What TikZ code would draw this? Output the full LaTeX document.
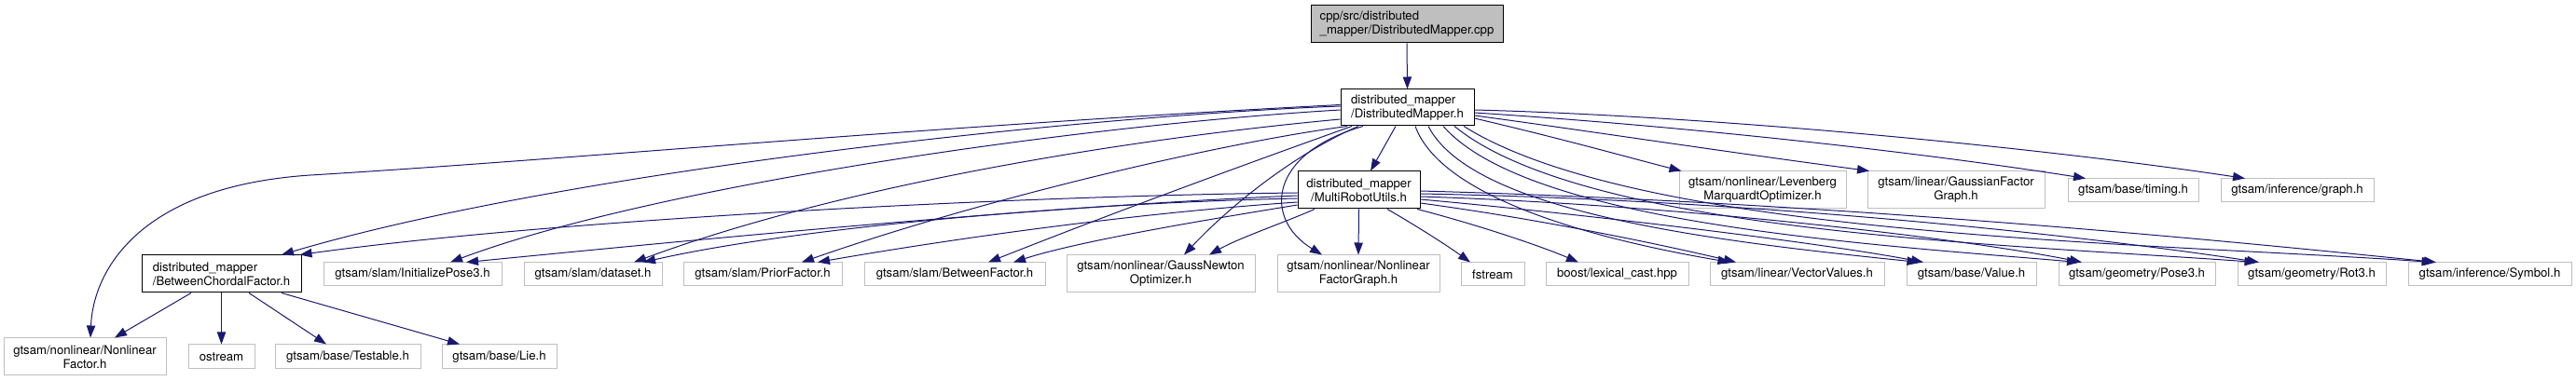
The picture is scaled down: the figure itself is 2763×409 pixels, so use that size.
\documentclass[tikz,border=0pt]{standalone}
\usepackage{fontspec}
\setmainfont{TeX Gyre Heros}
\usetikzlibrary{arrows.meta,calc}
\definecolor{edgecol}{HTML}{191970}
\definecolor{grey75}{HTML}{BFBFBF}
\tikzset{
  box/.style={draw=grey75, line width=0.75pt, inner sep=0pt, align=center,
    font=\fontsize{9.86pt}{11.25pt}\selectfont},
  mainbox/.style={box, draw=black},
  lbox/.style={mainbox, align=left},
  edge/.style={draw=edgecol, line width=0.75pt, -{Triangle[length=9.75pt,width=7pt]}},
}
\newcommand\bx[6][]{\node[#2,#1, minimum width=#4*0.75pt, minimum height=#5*0.75pt] (#3) at (#6)}
\begin{document}
\begin{tikzpicture}[x=0.75pt,y=-0.75pt]
\useasboundingbox (0,0) rectangle (2763,409);
% nodes
\bx[fill=grey75]{lbox}{cpp}{206}{40}{1509,26} {cpp/src/distributed\\\_mapper/DistributedMapper.cpp};
\bx{lbox}{DM}{143}{39}{1509.5,115.5} {distributed\_mapper\\/DistributedMapper.h};
\bx{mainbox}{MRU}{131}{40}{1457.5,204} {distributed\_mapper\\/MultiRobotUtils.h};
\bx{box}{Lev}{179}{40}{1890.5,204} {gtsam/nonlinear/Levenberg\\MarquardtOptimizer.h};
\bx{box}{GFG}{190}{40}{2098,204} {gtsam/linear/GaussianFactor\\Graph.h};
\bx{box}{timing}{140}{25}{2288,204.5} {gtsam/base/timing.h};
\bx{box}{graph}{164}{25}{2464,204.5} {gtsam/inference/graph.h};
\bx{lbox}{BCF}{171}{40}{237.5,294} {distributed\_mapper\\/BetweenChordalFactor.h};
\bx{box}{Init}{191}{25}{442.5,294.5} {gtsam/slam/InitializePose3.h};
\bx{box}{dataset}{148}{25}{636,294.5} {gtsam/slam/dataset.h};
\bx{box}{Prior}{170}{25}{818,294.5} {gtsam/slam/PriorFactor.h};
\bx{box}{BF}{194}{25}{1024,294.5} {gtsam/slam/BetweenFactor.h};
\bx{box}{GN}{202}{40}{1245,294} {gtsam/nonlinear/GaussNewton\\Optimizer.h};
\bx{box}{NLFG}{174}{40}{1457,294} {gtsam/nonlinear/Nonlinear\\FactorGraph.h};
\bx{box}{fstream}{68}{25}{1601,294.5} {fstream};
\bx{box}{boost}{153}{25}{1734.5,294.5} {boost/lexical\_cast.hpp};
\bx{box}{VV}{187}{25}{1927.5,294.5} {gtsam/linear/VectorValues.h};
\bx{box}{Value}{139}{25}{2114.5,294.5} {gtsam/base/Value.h};
\bx{box}{Pose3}{168}{25}{2292,294.5} {gtsam/geometry/Pose3.h};
\bx{box}{Rot3}{159}{25}{2479.5,294.5} {gtsam/geometry/Rot3.h};
\bx{box}{Symbol}{175}{25}{2670.5,294.5} {gtsam/inference/Symbol.h};
\bx{box}{NLF}{174}{40}{91,383} {gtsam/nonlinear/Nonlinear\\Factor.h};
\bx{box}{ostream}{71}{26}{237.5,383} {ostream};
\bx{box}{Testable}{156}{26}{373,383} {gtsam/base/Testable.h};
\bx{box}{Lie}{123}{26}{535.5,383} {gtsam/base/Lie.h};
% edges
\draw[edge] (cpp.south) -- (DM.north);
\draw[edge] ($(DM.south)+(-12.5,0)$) -- ($(MRU.north)+(12.5,0)$);
\draw[edge] ($(DM.west)+(0,-3)$) .. controls (1000,135) and (600,172) .. (333,188) .. controls (150,200) and (100,290) .. ($(NLF.north)+(6,0)$);
\draw[edge] ($(DM.west)+(0,-1.5)$) .. controls (1150,125) and (600,185) .. ($(BCF.north)+(64.5,0)$);
\draw[edge] ($(DM.west)+(0,2.5)$) .. controls (1150,135) and (700,200) .. ($(Init.north)+(40.5,0)$);
\draw[edge] ($(DM.west)+(0,12.5)$) .. controls (1200,150) and (900,200) .. ($(dataset.north)+(44,0)$);
\draw[edge] ($(DM.south)+(-64.5,0)$) .. controls (1300,155) and (1050,215) .. ($(Prior.north)+(42,0)$);
\draw[edge] ($(DM.south)+(-59.5,0)$) .. controls (1320,182) and (1190,230) .. ($(BF.north)+(36,0)$);
\draw[edge] ($(DM.south)+(-52.5,0)$) .. controls (1400,160) and (1330,210) .. ($(GN.north)+(25,0)$);
\draw[edge] ($(DM.south)+(-47.5,0)$) .. controls (1360,165) and (1355,235) .. ($(NLFG.north)+(-39,0)$);
\draw[edge] (MRU.south) -- (NLFG.north);
\draw[edge] ($(MRU.west)+(0,3)$) .. controls (1100,210) and (600,235) .. ($(BCF.north)+(84,0)$);
\draw[edge] ($(MRU.west)+(0,6)$) .. controls (1100,222) and (700,262) .. ($(Init.north)+(57.5,0)$);
\draw[edge] ($(MRU.west)+(0,9)$) .. controls (1150,218) and (850,245) .. ($(dataset.north)+(54,0)$);
\draw[edge] ($(MRU.west)+(0,13)$) .. controls (1200,230) and (1000,260) .. ($(Prior.north)+(59,0)$);
\draw[edge] ($(MRU.west)+(0,16)$) .. controls (1300,235) and (1160,258) .. ($(BF.north)+(63,0)$);
\draw[edge] ($(MRU.south)+(-47.5,0)$) .. controls (1380,238) and (1330,255) .. ($(GN.north)+(52,0)$);
\draw[edge] ($(MRU.south)+(30.5,0)$) .. controls (1515,240) and (1550,262) .. ($(fstream.north)+(-24,0)$);
\draw[edge] ($(MRU.south)+(62.5,0)$) .. controls (1580,240) and (1650,263) .. ($(boost.north)+(-41.5,0)$);
\draw[edge] ($(MRU.east)+(0,14)$) .. controls (1650,235) and (1780,262) .. ($(VV.north)+(-65.5,0)$);
\draw[edge] ($(MRU.east)+(0,10)$) .. controls (1700,230) and (1950,260) .. ($(Value.north)+(-51.5,0)$);
\draw[edge] ($(MRU.east)+(0,7)$) .. controls (1800,220) and (2100,255) .. ($(Pose3.north)+(-59,0)$);
\draw[edge] ($(MRU.east)+(0,4)$) .. controls (1900,215) and (2250,255) .. ($(Rot3.north)+(-56.5,0)$);
\draw[edge] ($(MRU.east)+(0,1)$) .. controls (2000,218) and (2450,265) .. ($(Symbol.north)+(-57.5,0)$);
\draw[edge] ($(DM.east)+(0,11.5)$) .. controls (1680,150) and (1750,170) .. ($(Lev.north)+(-87,0)$);
\draw[edge] ($(DM.east)+(0,8.5)$) .. controls (1700,140) and (1850,163) .. ($(GFG.north)+(-93,0)$);
\draw[edge] ($(DM.east)+(0,5.5)$) .. controls (1800,135) and (2050,162) .. ($(timing.north)+(-51,0)$);
\draw[edge] ($(DM.east)+(0,2.5)$) .. controls (1850,125) and (2200,160) .. ($(graph.north)+(-56,0)$);
\draw[edge] ($(DM.south)+(8.5,0)$) .. controls (1545,210) and (1700,255) .. ($(VV.north)+(-72,0)$);
\draw[edge] ($(DM.south)+(22.5,0)$) .. controls (1580,230) and (1850,260) .. ($(Value.north)+(-56,0)$);
\draw[edge] ($(DM.south)+(38.5,0)$) .. controls (1640,240) and (2000,262) .. ($(Pose3.north)+(-62,0)$);
\draw[edge] ($(DM.south)+(50.5,0)$) .. controls (1700,250) and (2150,262) .. ($(Rot3.north)+(-59,0)$);
\draw[edge] ($(DM.south)+(60.5,0)$) .. controls (1760,255) and (2300,260) .. ($(Symbol.north)+(-60,0)$);
\draw[edge] ($(BCF.south)+(-32.5,0)$) -- ($(NLF.north)+(32,0)$);
\draw[edge] (BCF.south) -- (ostream.north);
\draw[edge] ($(BCF.south)+(29.5,0)$) -- ($(Testable.north)+(-23,0)$);
\draw[edge] ($(BCF.south)+(64.5,0)$) -- ($(Lie.north)+(-42.5,0)$);
\end{tikzpicture}
\end{document}
